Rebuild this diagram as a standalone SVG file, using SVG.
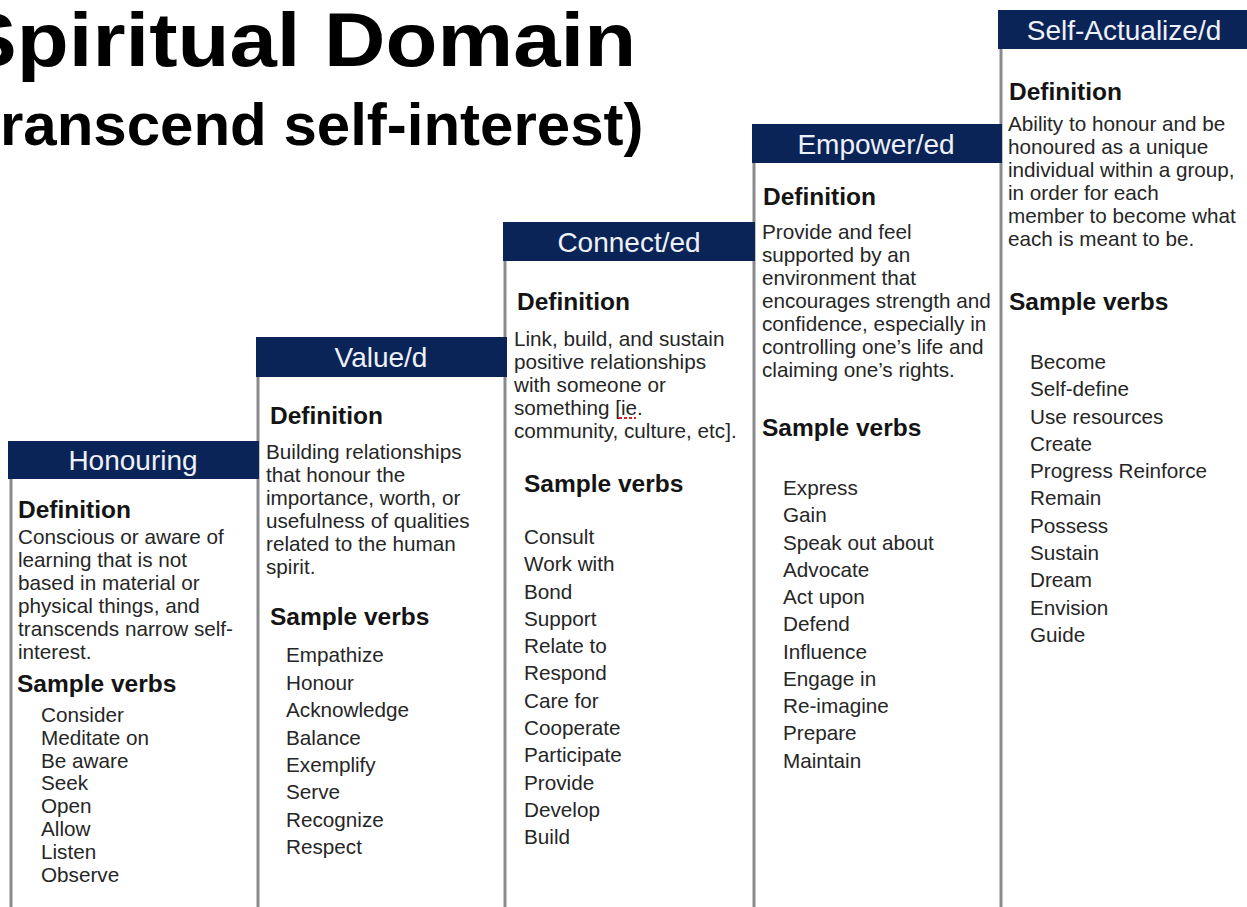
<svg xmlns="http://www.w3.org/2000/svg" width="1247" height="907" viewBox="0 0 1247 907">
  <style>
    .title { font-family: "Liberation Sans", Arial, sans-serif; font-weight: bold; fill: #000; }
    .hdr { fill: #0b2458; }
    .hdrtxt { font-family: "Liberation Sans", Arial, sans-serif; font-size: 28px; fill: #eef1f7; text-anchor: middle; }
    .rule { stroke: #8a8a8f; stroke-width: 3; fill: none; }
    .h { font-family: "Liberation Sans", Arial, sans-serif; font-size: 24.5px; font-weight: bold; fill: #141414; }
    .t { font-family: "Liberation Sans", Arial, sans-serif; font-size: 20.7px; fill: #262626; }
    .squiggle { stroke: #e02020; stroke-width: 2; stroke-dasharray: 3 2; fill: none; }
  </style>
  <rect width="1247" height="907" fill="#ffffff"/>

  <!-- page heading, set slightly wide -->
  <g id="heading">
    <text class="title" transform="translate(-40,66) scale(1.12,1)" font-size="76">Spiritual Domain</text>
    <text class="title" x="-40" y="145" font-size="60">(transcend self-interest)</text>
  </g>

  <!-- column frames -->
  <g id="frames">
    <line class="rule" x1="11" y1="479" x2="11" y2="907"/>
    <line class="rule" x1="258" y1="377" x2="258" y2="907"/>
    <line class="rule" x1="505" y1="261" x2="505" y2="907"/>
    <line class="rule" x1="754" y1="163" x2="754" y2="907"/>
    <line class="rule" x1="1001" y1="49" x2="1001" y2="907"/>
  </g>

  <g id="connectors"></g>

  <g id="honouring">
    <rect class="hdr" x="8" y="441" width="251" height="38"/>
    <text class="hdrtxt" x="133" y="470">Honouring</text>
    <text class="h" x="18" y="518">Definition</text>
    <text class="t" x="18" y="544">Conscious or aware of</text>
    <text class="t" x="18" y="567">learning that is not</text>
    <text class="t" x="18" y="590">based in material or</text>
    <text class="t" x="18" y="613">physical things, and</text>
    <text class="t" x="18" y="636">transcends narrow self-</text>
    <text class="t" x="18" y="659">interest.</text>
    <text class="h" x="17" y="692">Sample verbs</text>
    <text class="t" x="41" y="722">Consider</text>
    <text class="t" x="41" y="745">Meditate on</text>
    <text class="t" x="41" y="768">Be aware</text>
    <text class="t" x="41" y="790">Seek</text>
    <text class="t" x="41" y="813">Open</text>
    <text class="t" x="41" y="836">Allow</text>
    <text class="t" x="41" y="859">Listen</text>
    <text class="t" x="41" y="882">Observe</text>
  </g>

  <g id="valued">
    <rect class="hdr" x="256" y="337" width="251" height="40"/>
    <text class="hdrtxt" x="381" y="367">Value/d</text>
    <text class="h" x="270" y="424">Definition</text>
    <text class="t" x="266" y="459">Building relationships</text>
    <text class="t" x="266" y="482">that honour the</text>
    <text class="t" x="266" y="505">importance, worth, or</text>
    <text class="t" x="266" y="528">usefulness of qualities</text>
    <text class="t" x="266" y="551">related to the human</text>
    <text class="t" x="266" y="574">spirit.</text>
    <text class="h" x="270" y="625">Sample verbs</text>
    <text class="t" x="286" y="662">Empathize</text>
    <text class="t" x="286" y="690">Honour</text>
    <text class="t" x="286" y="717">Acknowledge</text>
    <text class="t" x="286" y="745">Balance</text>
    <text class="t" x="286" y="772">Exemplify</text>
    <text class="t" x="286" y="799">Serve</text>
    <text class="t" x="286" y="827">Recognize</text>
    <text class="t" x="286" y="854">Respect</text>
  </g>

  <g id="connected">
    <rect class="hdr" x="503" y="222" width="252" height="39"/>
    <text class="hdrtxt" x="629" y="252">Connect/ed</text>
    <text class="h" x="517" y="310">Definition</text>
    <text class="t" x="514" y="346">Link, build, and sustain</text>
    <text class="t" x="514" y="369">positive relationships</text>
    <text class="t" x="514" y="392">with someone or</text>
    <text class="t" x="514" y="415">something [ie.</text>
    <path class="squiggle" d="M619 418 L636 418"/>
    <text class="t" x="514" y="438">community, culture, etc].</text>
    <text class="h" x="524" y="492">Sample verbs</text>
    <text class="t" x="524" y="544">Consult</text>
    <text class="t" x="524" y="571">Work with</text>
    <text class="t" x="524" y="599">Bond</text>
    <text class="t" x="524" y="626">Support</text>
    <text class="t" x="524" y="653">Relate to</text>
    <text class="t" x="524" y="680">Respond</text>
    <text class="t" x="524" y="708">Care for</text>
    <text class="t" x="524" y="735">Cooperate</text>
    <text class="t" x="524" y="762">Participate</text>
    <text class="t" x="524" y="790">Provide</text>
    <text class="t" x="524" y="817">Develop</text>
    <text class="t" x="524" y="844">Build</text>
  </g>

  <g id="empowered">
    <rect class="hdr" x="752" y="124" width="250" height="39"/>
    <text class="hdrtxt" x="876" y="154">Empower/ed</text>
    <text class="h" x="763" y="205">Definition</text>
    <text class="t" x="762" y="239">Provide and feel</text>
    <text class="t" x="762" y="262">supported by an</text>
    <text class="t" x="762" y="285">environment that</text>
    <text class="t" x="762" y="308">encourages strength and</text>
    <text class="t" x="762" y="331">confidence, especially in</text>
    <text class="t" x="762" y="354">controlling one’s life and</text>
    <text class="t" x="762" y="377">claiming one’s rights.</text>
    <text class="h" x="762" y="436">Sample verbs</text>
    <text class="t" x="783" y="495">Express</text>
    <text class="t" x="783" y="522">Gain</text>
    <text class="t" x="783" y="550">Speak out about</text>
    <text class="t" x="783" y="577">Advocate</text>
    <text class="t" x="783" y="604">Act upon</text>
    <text class="t" x="783" y="631">Defend</text>
    <text class="t" x="783" y="659">Influence</text>
    <text class="t" x="783" y="686">Engage in</text>
    <text class="t" x="783" y="713">Re-imagine</text>
    <text class="t" x="783" y="740">Prepare</text>
    <text class="t" x="783" y="768">Maintain</text>
  </g>

  <g id="self-actualized">
    <rect class="hdr" x="998" y="10" width="249" height="39"/>
    <text class="hdrtxt" x="1124" y="40">Self-Actualize/d</text>
    <text class="h" x="1009" y="100">Definition</text>
    <text class="t" x="1008" y="131">Ability to honour and be</text>
    <text class="t" x="1008" y="154">honoured as a unique</text>
    <text class="t" x="1008" y="177">individual within a group,</text>
    <text class="t" x="1008" y="200">in order for each</text>
    <text class="t" x="1008" y="223">member to become what</text>
    <text class="t" x="1008" y="246">each is meant to be.</text>
    <text class="h" x="1009" y="310">Sample verbs</text>
    <text class="t" x="1030" y="369">Become</text>
    <text class="t" x="1030" y="396">Self-define</text>
    <text class="t" x="1030" y="424">Use resources</text>
    <text class="t" x="1030" y="451">Create</text>
    <text class="t" x="1030" y="478">Progress Reinforce</text>
    <text class="t" x="1030" y="505">Remain</text>
    <text class="t" x="1030" y="533">Possess</text>
    <text class="t" x="1030" y="560">Sustain</text>
    <text class="t" x="1030" y="587">Dream</text>
    <text class="t" x="1030" y="615">Envision</text>
    <text class="t" x="1030" y="642">Guide</text>
  </g>
</svg>
